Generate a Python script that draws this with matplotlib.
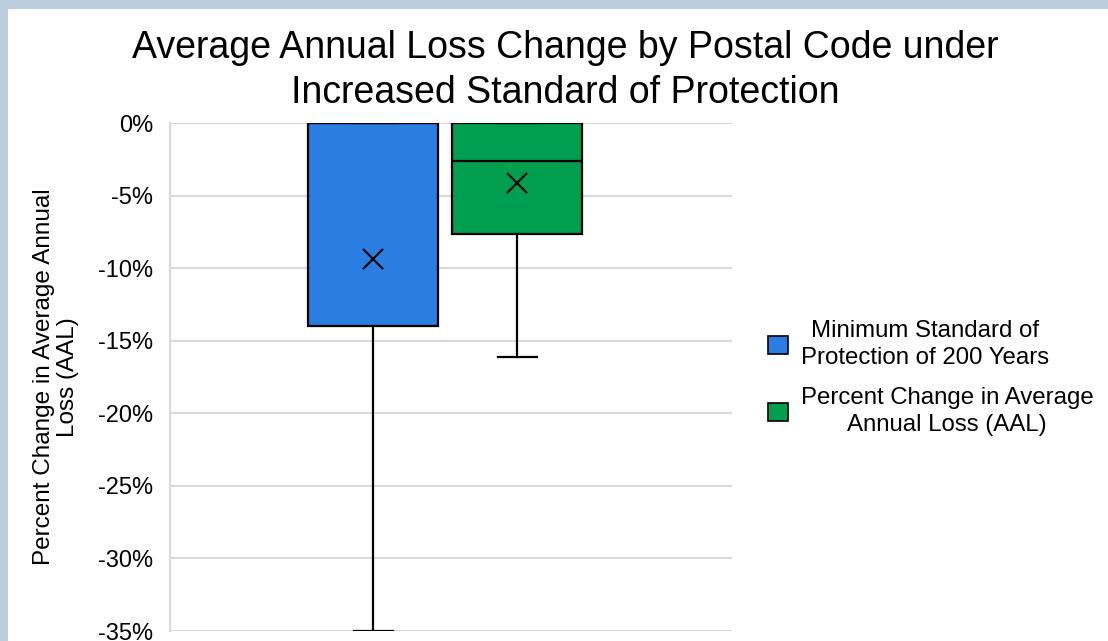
#!/usr/bin/env python3

import matplotlib.pyplot as plt
from matplotlib.patches import Patch, Rectangle
from matplotlib.ticker import FuncFormatter

plt.rcParams['font.family'] = ['Liberation Sans', 'DejaVu Sans']

# box statistics (percent change in AAL)
labels = ['Minimum Standard of\nProtection of 200 Years',
          'Percent Change in Average\nAnnual Loss (AAL)']
colors = ['#2A7DE1', '#009E4F']
whislo = [-35.0, -16.1]
q1 = [-14.0, -7.65]
med = [0.0, -2.6]
q3 = [0.0, 0.0]
whishi = [0.0, 0.0]
means = [-9.4, -4.1]
yticks = [0, -5, -10, -15, -20, -25, -30, -35]


def main():
    fig = plt.figure(figsize=(11.08, 6.41), dpi=100)
    ax = fig.add_axes([0.1534, 0.0156, 0.5072, 0.7925])

    stats = []
    for i in range(len(labels)):
        stats.append(dict(whislo=whislo[i], q1=q1[i], med=med[i], q3=q3[i],
                          whishi=whishi[i], mean=means[i], fliers=[]))

    bp = ax.bxp(stats, positions=[1, 2], widths=0.9, capwidths=0.27,
                patch_artist=True, showmeans=True, zorder=3,
                boxprops=dict(edgecolor='black', linewidth=1.6),
                medianprops=dict(color='black', linewidth=1.6),
                whiskerprops=dict(color='black', linewidth=1.6),
                capprops=dict(color='black', linewidth=1.6),
                meanprops=dict(marker='x', markeredgecolor='black',
                               markersize=14, markeredgewidth=1.5))
    for box, c in zip(bp['boxes'], colors):
        box.set_facecolor(c)

    ax.set_xlim(-0.41, 3.49)
    ax.set_ylim(-35, 0)
    ax.set_yticks(yticks)
    ax.yaxis.set_major_formatter(FuncFormatter(lambda v, p: f'{v:.0f}%'))
    ax.set_xticks([])
    ax.tick_params(axis='y', length=0, pad=12, labelsize=17)
    ax.grid(axis='y', color='#D9D9D9', linewidth=1.5, zorder=0)
    ax.set_axisbelow(True)
    for s in ['top', 'right', 'bottom']:
        ax.spines[s].set_visible(False)
    ax.spines['left'].set_color('#D9D9D9')
    ax.spines['left'].set_linewidth(1.5)

    ax.set_ylabel('Percent Change in Average Annual\nLoss (AAL)', fontsize=17.5,
                  labelpad=14, linespacing=1.1)

    fig.text(0.51, 0.89,
             'Average Annual Loss Change by Postal Code under\nIncreased Standard of Protection',
             ha='center', va='center', fontsize=27, linespacing=1.3)

    handles = [Patch(facecolor=c, edgecolor='black', linewidth=1.2) for c in colors]
    leg = fig.legend(handles, labels, loc='center left',
                     bbox_to_anchor=(0.674, 0.41), frameon=False,
                     fontsize=17.3, handlelength=0.8, handleheight=0.8,
                     handletextpad=0.54, labelspacing=0.76)
    for t in leg.get_texts():
        t.set_multialignment('center')
        t.set_linespacing(1.28)

    # pale frame along the top and left edges
    fig.add_artist(Rectangle((0, 1 - 9 / 641), 1, 9 / 641, transform=fig.transFigure,
                             facecolor='#BCCDDF', edgecolor='none'))
    fig.add_artist(Rectangle((0, 0), 8 / 1108, 1, transform=fig.transFigure,
                             facecolor='#BCCDDF', edgecolor='none'))

    fig.savefig('out.png', dpi=100)


if __name__ == "__main__":
    main()
